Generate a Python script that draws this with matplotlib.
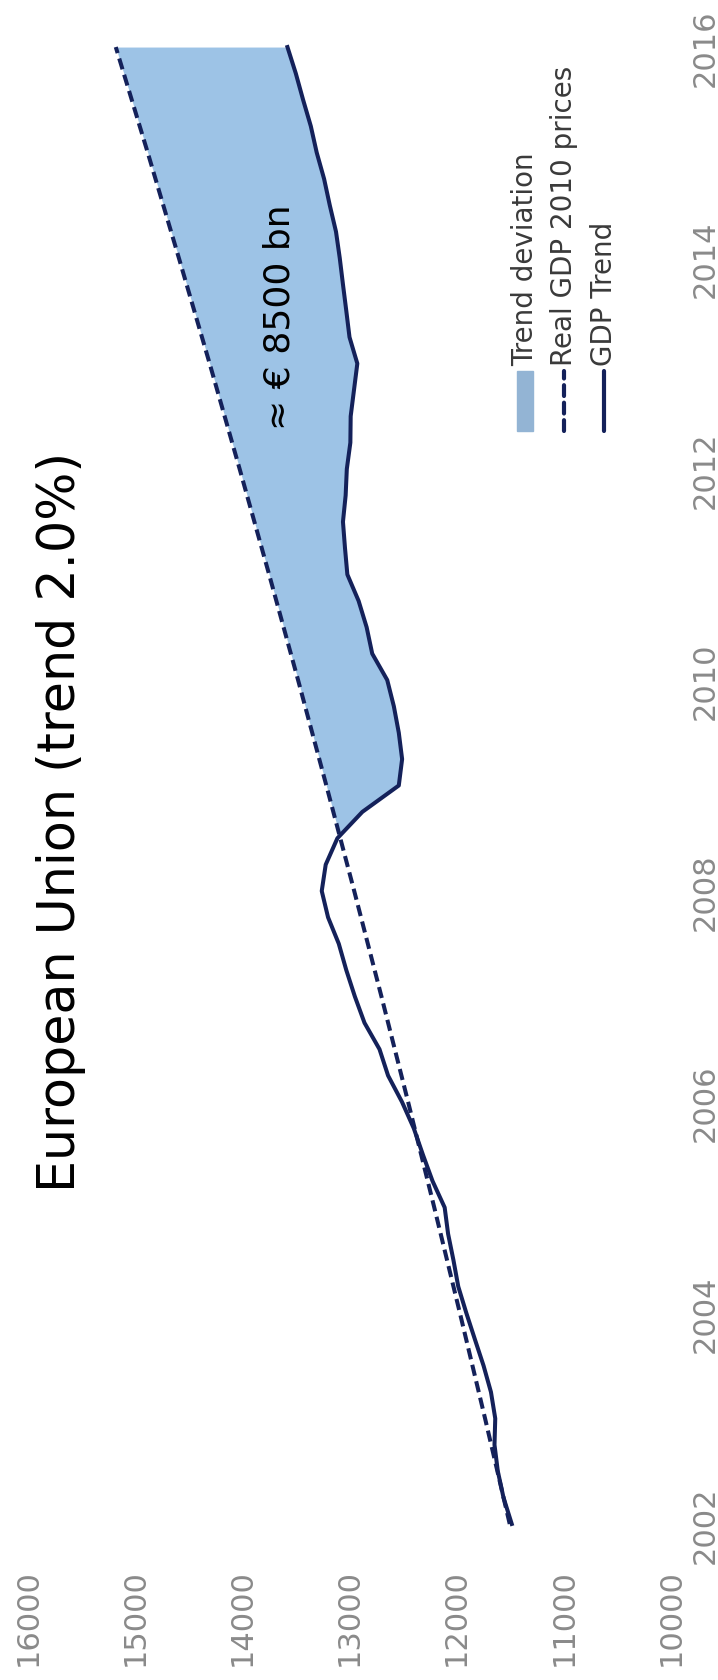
import numpy as np
import matplotlib
matplotlib.use("Agg")
import matplotlib.pyplot as plt
from matplotlib.lines import Line2D
from matplotlib.patches import Rectangle

# quarterly real GDP, EU, bn EUR (2010 prices)
quarters = np.arange(2002.0, 2016.001, 0.25)
gdp = [
    11486, 11563, 11616, 11647, 11640, 11680, 11749, 11830,
    11910, 11985, 12030, 12080, 12112, 12225, 12315, 12400,
    12510, 12640, 12720, 12860, 12950, 13030, 13100, 13200,
    13259, 13222, 13113, 12880, 12540, 12509, 12540, 12586,
    12648, 12788, 12840, 12915, 13020, 13042, 13061, 13036,
    13025, 12992, 12989, 12958, 12927, 13000, 13030, 13061,
    13091, 13126, 13184, 13237, 13306, 13361, 13433, 13501,
    13579,
]

# 2% trend, yearly
trend_years = list(range(2002, 2017))
trend = [11505, 11735, 11970, 12209, 12453, 12702, 12956, 13216,
         13480, 13750, 14025, 14305, 14592, 14883, 15181]

gdp_ticks = [10000, 11000, 12000, 13000, 14000, 15000, 16000]
year_ticks = [2002, 2004, 2006, 2008, 2010, 2012, 2014, 2016]
legend_labels = ['Trend deviation', 'Real GDP 2010 prices', 'GDP Trend']
title = 'European Union (trend 2.0%)'
gap_label = '\u2248 \u20ac 8500 bn'

navy = '#14215a'
fill_col = '#9dc3e6'
grey = '#8a8a8a'

W, H = 718, 1681
fig = plt.figure(figsize=(W / 100, H / 100), dpi=100)
ax = fig.add_axes([28 / W, 1 - 1535.5 / H, (671 - 28) / W, (1535.5 - 37.5) / H])

gdp = np.asarray(gdp, float)
trend_q = np.interp(quarters, trend_years, trend)
ax.fill_betweenx(quarters, gdp, trend_q,
                 where=(quarters >= 2008) & (trend_q >= gdp),
                 interpolate=True, color=fill_col, lw=0)
ax.plot(trend, trend_years, color=navy, lw=2.9, ls=(0, (2.8, 1.4)))
ax.plot(gdp, quarters, color=navy, lw=2.9)

ax.text(13650, 2013.45, gap_label, rotation=90, ha='center', va='center',
        fontsize=26, color='black')

ax.set_xlim(16000, 10000)
ax.set_ylim(2001.9, 2016.1)
ax.set_xticks(gdp_ticks)
ax.set_xticklabels([str(t) for t in gdp_ticks], rotation=90)
ax.yaxis.tick_right()
ax.set_yticks(year_ticks)
ax.set_yticklabels([str(t) for t in year_ticks], rotation=90, va='center')
ax.tick_params(axis='x', length=0, pad=24, labelsize=22, labelcolor=grey)
ax.tick_params(axis='y', length=0, pad=14, labelsize=22, labelcolor=grey)
for s in ax.spines.values():
    s.set_visible(False)

fig.text(61 / W, 1 - 822 / H, title, rotation=90, ha='center', va='center',
         fontsize=36.5, color='black')

# legend, drawn sideways
key_x = [525, 564, 604]
y0, y1 = 1 - 432 / H, 1 - 372 / H
fig.patches.append(Rectangle((517 / W, y0), 16 / W, y1 - y0,
                             transform=fig.transFigure, color='#93b4d4'))
fig.lines.append(Line2D([key_x[1] / W] * 2, [y0, y1], transform=fig.transFigure,
                        color=navy, lw=3, ls=(0, (2.6, 1.6)),
                        solid_capstyle='round', dash_capstyle='round'))
fig.lines.append(Line2D([key_x[2] / W] * 2, [y0, y1], transform=fig.transFigure,
                        color=navy, lw=3, solid_capstyle='round'))
for x, lab in zip(key_x, legend_labels):
    fig.text(x / W, 1 - 366 / H, lab, rotation=90, ha='center', va='bottom',
             fontsize=20, color='#3a3a3a')

fig.savefig('out.png', dpi=100)
